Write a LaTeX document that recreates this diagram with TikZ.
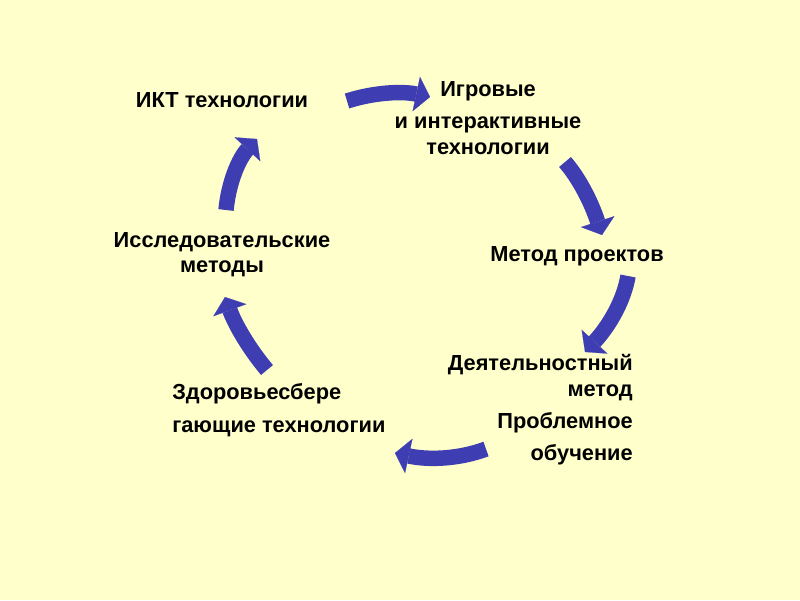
\documentclass[tikz,border=0pt]{standalone}
\usepackage{fontspec}
\setmainfont{Liberation Sans}
\usetikzlibrary{arrows.meta,calc}
\definecolor{slidebg}{RGB}{255,255,204}
\definecolor{cyclecol}{RGB}{62,62,178}

\begin{document}
\begin{tikzpicture}[x=0.025cm, y=-0.025cm,
		every node/.style={font=\fontsize{15.5}{18}\selectfont\bfseries, inner sep=0pt},
		cyc/.style={draw=cyclecol, line width=11pt,
			-{Triangle[length=10pt, width=25pt, line width=0.1pt, fill=cyclecol]}}]
		\useasboundingbox (0,0) rectangle (800,600);
		\fill[slidebg] (0,0) rectangle (800,600);
		% stages of the cycle
		\node (ikt) at (222,100) {ИКТ технологии};
		\node[align=center] (igr) at (488,118) {Игровые\\[5pt] и интерактивные\\технологии};
		\node[align=center] (proj) at (577,256) {Метод проектов};
		\node[align=right, anchor=east] (deyat) at (633,410) {Деятельностный\\метод\\[5pt]Проблемное\\[5pt]обучение};
		\node[align=left, anchor=west] (zdor) at (172,410) {Здоровьесбере\\[5pt]гающие технологии};
		\node[align=center] (issl) at (222,255) {Исследовательские\\методы};
		% arrow ends (a = tail, b = tip, c = bend)
		\coordinate (a1) at (347,101); \coordinate (b1) at (430,97); \coordinate (c1) at (388,88);
		\coordinate (a2) at (565,162); \coordinate (b2) at (602,235); \coordinate (c2) at (586,186);
		\coordinate (a3) at (628,276); \coordinate (b3) at (585,352); \coordinate (c3) at (622,312);
		\coordinate (a4) at (486,449); \coordinate (b4) at (395,453); \coordinate (c4) at (446,464);
		\coordinate (a5) at (267,370); \coordinate (b5) at (225,297); \coordinate (c5) at (240,338);
		\coordinate (a6) at (226,210); \coordinate (b6) at (257,139); \coordinate (c6) at (230,168);
		% curved arrows
		\foreach \i in {1,...,6}
			\draw[cyc] (a\i) .. controls ($(a\i)!2/3!(c\i)$) and ($(b\i)!2/3!(c\i)$) .. (b\i);
	\end{tikzpicture}
\end{document}
